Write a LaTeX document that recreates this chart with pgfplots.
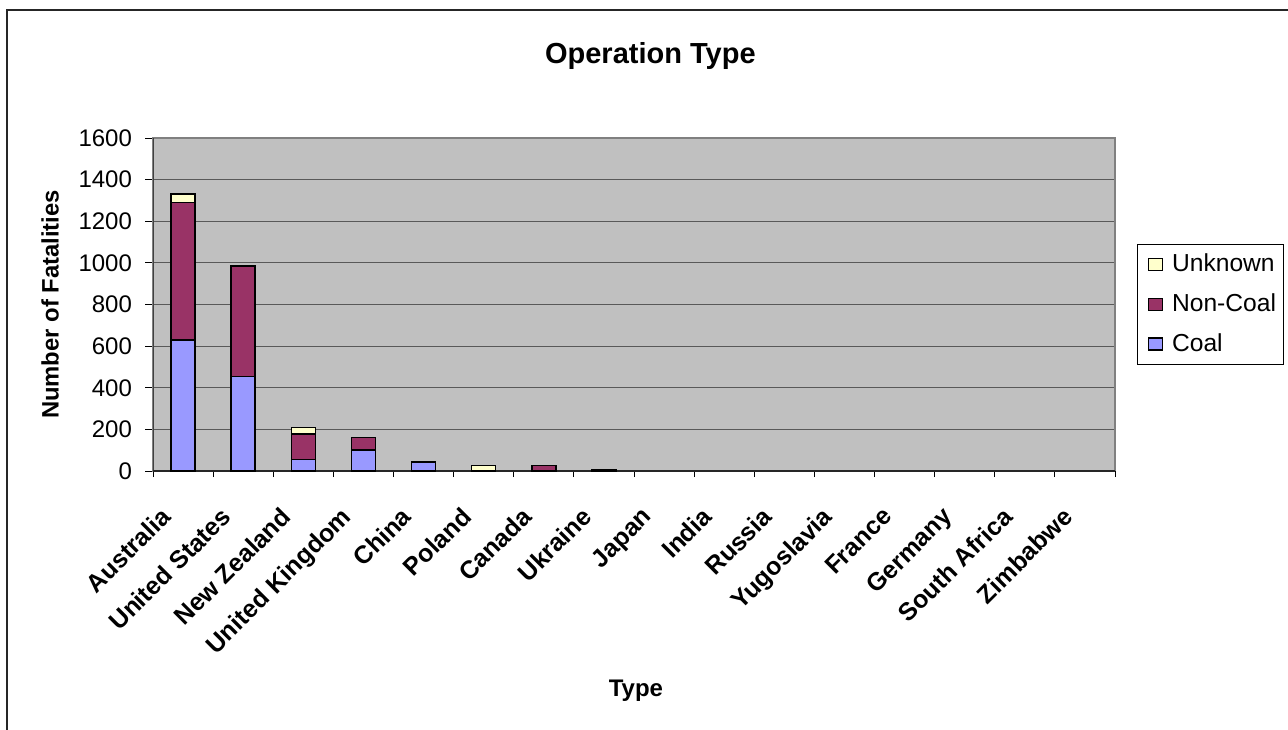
\documentclass[border=0pt]{standalone}
\usepackage{pgfplots}
\pgfplotsset{compat=1.18}
\usepackage{fontspec}
\setmainfont{Liberation Sans}
\definecolor{coal}{HTML}{9999FF}
\definecolor{noncoal}{HTML}{993366}
\definecolor{unknown}{HTML}{FFFFCC}
\definecolor{plotbg}{HTML}{C0C0C0}
\begin{document}
\begin{tikzpicture}
\useasboundingbox (0,0) rectangle (644pt,364.5pt);
\draw[black!85, line width=1.2pt] (3.5pt,-2pt) -- (3.5pt,359.5pt) -- (650pt,359.5pt);
\begin{axis}[
  at={(76.5pt,129pt)}, anchor=south west,
  scale only axis, width=481pt, height=166.5pt,
  ybar stacked, bar width=12pt,
  xmin=-0.5, xmax=15.5, ymin=0, ymax=1600,
  axis background/.style={fill=plotbg},
  axis line style={draw=black!50, line width=0.8pt},
  ytick={0,200,...,1600},
  ytick pos=left, xtick pos=bottom,
  ymajorgrids, major grid style={black!65, line width=0.5pt},
  tick align=outside, major tick length=4pt,
  tick style={black, line width=0.5pt},
  xtick={0,...,15},
  xtick style={draw=none},
  xticklabels={Australia,United States,New Zealand,United Kingdom,China,Poland,Canada,Ukraine,Japan,India,Russia,Yugoslavia,France,Germany,South Africa,Zimbabwe},
  extra x ticks={-0.5,0.5,...,15.5},
  extra x tick labels={},
  extra x tick style={grid=none, major tick length=3pt, xtick style={draw=black}},
  xticklabel style={xshift=-11.8pt, yshift=-11.7pt, rotate=45, anchor=north east, font=\bfseries\fontsize{12.5}{14}\selectfont, inner sep=1pt},
  yticklabel style={font=\fontsize{12}{14}\selectfont, xshift=-3pt},
  /pgf/number format/assume math mode=true,
  /pgf/number format/1000 sep={},
  title={Operation Type},
  title style={at={(axis description cs:0.517,1.21)}, anchor=center, font=\bfseries\fontsize{14.5}{17}\selectfont},
  xlabel={Type},
  xlabel style={at={(axis description cs:0.502,-0.66)}, anchor=center, font=\bfseries\fontsize{12}{14}\selectfont},
  ylabel={Number of Fatalities},
  ylabel style={at={(axis description cs:-0.107,0.5)}, anchor=center, font=\bfseries\fontsize{11.9}{14}\selectfont},
  legend style={at={(axis description cs:1.023,0.683)}, anchor=north west, draw=black, line width=0.5pt,
    font=\fontsize{12.3}{14}\selectfont, row sep=5.5pt, inner xsep=2.5pt, inner ysep=3pt,
    nodes={inner xsep=1pt},
    /tikz/every odd column/.append style={column sep=3.5pt}},
  legend cell align=left,
  reverse legend,
  legend image code/.code={\path (0pt,0pt); \draw[#1, draw=black, line width=0.7pt] (2.5pt,-3pt) rectangle (9.5pt,3pt);},
  every axis plot/.append style={draw=black, line width=0.75pt},
]
\addplot[fill=coal] coordinates {(0,630) (1,455) (2,55) (3,100) (4,43) (5,0) (6,2) (7,4) (8,0) (9,0) (10,0) (11,0) (12,0) (13,0) (14,0) (15,0)};
\addplot[fill=noncoal] coordinates {(0,660) (1,530) (2,123) (3,60) (4,0) (5,0) (6,24) (7,4) (8,0) (9,0) (10,0) (11,0) (12,0) (13,0) (14,0) (15,0)};
\addplot[fill=unknown] coordinates {(0,40) (1,0) (2,32) (3,0) (4,0) (5,27) (6,0) (7,0) (8,0) (9,0) (10,0) (11,0) (12,0) (13,0) (14,0) (15,0)};
\legend{Coal,Non-Coal,Unknown}
\draw[black!85, line width=0.9pt] (rel axis cs:0,0) -- (rel axis cs:1,0);
\draw[black!75, line width=0.8pt] (rel axis cs:0,0) -- (rel axis cs:0,1);
\end{axis}
\end{tikzpicture}
\end{document}
